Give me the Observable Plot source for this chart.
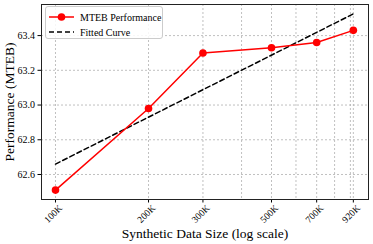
<!DOCTYPE html>
<html>
<head>
<meta charset="utf-8">
<script src="https://cdn.jsdelivr.net/npm/d3@7"></script>
<script src="https://cdn.jsdelivr.net/npm/@observablehq/plot@0.6"></script>
<style>
  html, body { margin: 0; padding: 0; background: #fff; }
  #wrap { position: relative; width: 373px; height: 244px; font-family: "Liberation Serif", "DejaVu Serif", serif; }
  #legend { position: absolute; left: 45px; top: 6px; width: 118px; height: 33px; border: 1px solid #cccccc; border-radius: 3px; background: rgba(255,255,255,0.85); box-sizing: border-box; font-size: 10px; color: #000; white-space: nowrap; }
  .row { position: absolute; left: 0; height: 14px; display: flex; align-items: center; white-space: nowrap; }
  .row svg { margin-left: 3px; margin-right: 6px; }
</style>
</head>
<body>
<div id="wrap">
  <div id="chart"></div>
  <div id="legend">
    <div class="row" style="top:3px"><svg width="25" height="10"><line x1="0" y1="5" x2="25" y2="5" stroke="#ff0000" stroke-width="1.5"/><circle cx="12.5" cy="5" r="3.8" fill="#ff0000"/></svg><span>MTEB Performance</span></div>
    <div class="row" style="top:18px"><svg width="25" height="10"><line x1="0" y1="5" x2="25" y2="5" stroke="#000" stroke-width="1.5" stroke-dasharray="5,3"/></svg><span>Fitted Curve</span></div>
  </div>
</div>
<script>
const sizes = [100000, 200000, 300000, 500000, 700000, 920000];
const xLabels = ["100K", "200K", "300K", "500K", "700K", "920K"];
const mteb = [62.51, 62.98, 63.30, 63.33, 63.36, 63.43];
const fitSizes = [100000, 920000];
const fitValues = [62.66, 63.525];
const gridSizes = [100000, 200000, 300000, 400000, 500000, 600000, 700000, 800000, 900000, 920000];
const yTicks = [62.6, 62.8, 63.0, 63.2, 63.4];

const perf = sizes.map((s, i) => ({size: s, value: mteb[i]}));
const fit = fitSizes.map((s, i) => ({size: s, value: fitValues[i]}));
const xTickData = sizes.map((s, i) => ({size: s, label: xLabels[i]}));

const gridStyle = {stroke: "#b0b0b0", strokeOpacity: 1, strokeDasharray: "2,2", strokeWidth: 0.8};

const chart = Plot.plot({
  width: 373,
  height: 244,
  marginLeft: 41,
  marginRight: 5,
  marginTop: 4,
  marginBottom: 45,
  style: {fontFamily: "Liberation Serif", fontSize: "10px", background: "#fff", color: "#000"},
  x: {type: "log", domain: [90100, 1030000]},
  y: {domain: [62.456, 63.579]},
  marks: [
    Plot.gridX(gridSizes, gridStyle),
    Plot.gridY(yTicks, gridStyle),
    Plot.axisY(yTicks, {tickSize: 3.5, tickPadding: 3, tickFormat: d3.format(".1f"), fontSize: 10, label: null, stroke: "#000"}),
    Plot.axisX(sizes, {tickSize: 3.5, tickFormat: () => "", label: null, stroke: "#000"}),
    Plot.text(xTickData, {x: "size", text: "label", frameAnchor: "bottom", dy: 16.5, rotate: -45, textAnchor: "middle", fontSize: 9.5, fill: "#000"}),
    Plot.line(fit, {x: "size", y: "value", stroke: "#000", strokeWidth: 1.5, strokeDasharray: "5,3"}),
    Plot.line(perf, {x: "size", y: "value", stroke: "#ff0000", strokeWidth: 1.5}),
    Plot.dot(perf, {x: "size", y: "value", fill: "#ff0000", r: 3.8}),
    Plot.frame({stroke: "#222", strokeWidth: 1}),
    Plot.text(["Synthetic Data Size (log scale)"], {frameAnchor: "bottom", dy: 38, fontSize: 13.5, textAnchor: "middle", fill: "#000"}),
    Plot.text(["Performance (MTEB)"], {frameAnchor: "left", dx: -32, rotate: -90, textAnchor: "middle", fontSize: 13.5, fill: "#000"})
  ]
});
document.getElementById("chart").appendChild(chart);
</script>
</body>
</html>
